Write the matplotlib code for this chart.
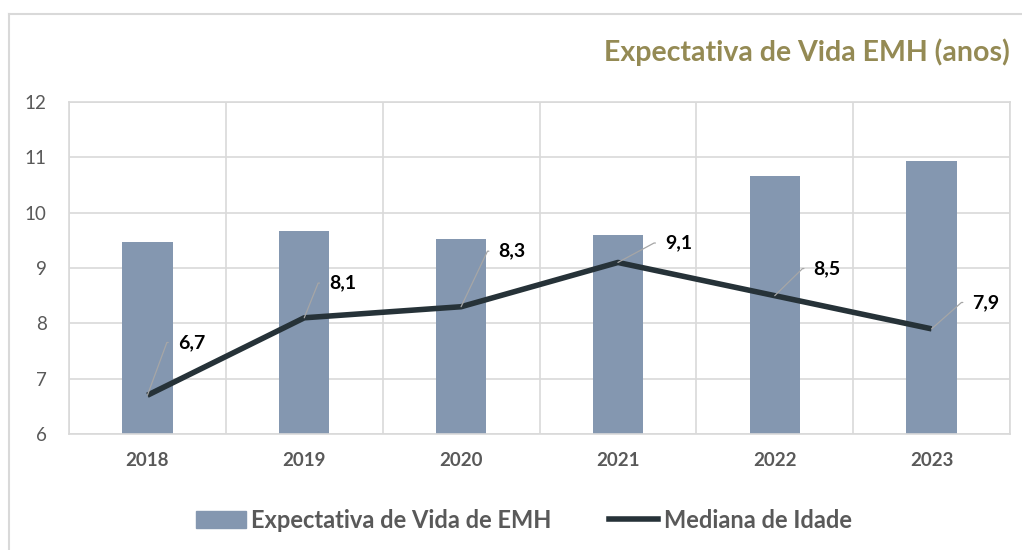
import numpy as np
import matplotlib
matplotlib.use("Agg")
import matplotlib.pyplot as plt
from matplotlib.lines import Line2D
from matplotlib.patches import Patch

anos = ["2018", "2019", "2020", "2021", "2022", "2023"]
expectativa_vida = [9.47, 9.67, 9.52, 9.60, 10.66, 10.93]
mediana_idade = [6.7, 8.1, 8.3, 9.1, 8.5, 7.9]
rotulos_mediana = ["6,7", "8,1", "8,3", "9,1", "8,5", "7,9"]

# label offsets (points) for the median data labels
offsets = [(22, 38), (18, 25), (27, 40), (34, 14), (28, 19.5), (29.5, 19)]

plt.rcParams['font.family'] = ['Lato', 'DejaVu Sans']

cor_barra = '#8497B0'
cor_linha = '#263238'
cor_grade = '#D9D9D9'
cor_texto = '#595959'

fig = plt.figure(figsize=(10.22, 5.5), dpi=100)
ax = fig.add_axes([69 / 1022, 1 - 434 / 550, (1010 - 69) / 1022, (434 - 102) / 550])

x = np.arange(len(anos))
ax.bar(x, expectativa_vida, width=0.32, color=cor_barra, zorder=2)
ax.plot(x, mediana_idade, color=cor_linha, lw=4, solid_capstyle='butt', zorder=3)

for xi, yi, txt, (dx, dy) in zip(x, mediana_idade, rotulos_mediana, offsets):
    ang = np.degrees(np.arctan2(dy, dx - 8))
    ax.annotate(txt, (xi, yi), xytext=(dx, dy), textcoords='offset points',
                ha='left', va='center', fontsize=14, fontweight='bold', color='black',
                zorder=4,
                arrowprops=dict(arrowstyle='-', color='#A6A6A6', lw=0.9,
                                connectionstyle=f'angle,angleA=0,angleB={ang},rad=0',
                                relpos=(0, 0.5), shrinkA=5, shrinkB=0))

ax.set_xlim(-0.5, len(anos) - 0.5)
ax.set_ylim(6, 12)
ax.set_yticks(range(6, 13))
ax.set_xticks(x)
ax.set_xticklabels(anos, fontweight='bold')
ax.set_xticks(np.arange(-0.5, len(anos)), minor=True)
ax.grid(axis='y', color=cor_grade, lw=1.2, zorder=0)
ax.grid(axis='x', which='minor', color=cor_grade, lw=1.2, zorder=0)
ax.grid(axis='x', which='major', visible=False)
for s in ax.spines.values():
    s.set_color(cor_grade)
    s.set_linewidth(1.2)
ax.tick_params(which='both', length=0)
ax.tick_params(axis='y', labelsize=13.5, labelcolor=cor_texto, pad=16)
ax.tick_params(axis='x', labelsize=13.5, labelcolor=cor_texto, pad=13)

fig.text(1010 / 1022, 1 - 52 / 550, "Expectativa de Vida EMH (anos)", ha='right', va='center',
         fontsize=20.5, fontweight='bold', color='#948A54')

# outer frame lines (top and left)
fig.add_artist(Line2D([9 / 1022, 9 / 1022], [0, 1 - 14 / 550], transform=fig.transFigure,
                      color=cor_grade, lw=1.5))
fig.add_artist(Line2D([9 / 1022, 1], [1 - 14 / 550, 1 - 14 / 550], transform=fig.transFigure,
                      color=cor_grade, lw=1.5))

handles = [Patch(color=cor_barra, label="Expectativa de Vida de EMH"),
           Line2D([0], [0], color=cor_linha, lw=4, label="Mediana de Idade")]
leg = fig.legend(handles=handles, loc='center', bbox_to_anchor=(524 / 1022, 1 - 520 / 550),
                 ncol=2, frameon=False, handlelength=2.1, handleheight=0.75, columnspacing=2.4,
                 handletextpad=0.25, prop={'size': 17, 'weight': 'bold'})
for t in leg.get_texts():
    t.set_color(cor_texto)

fig.savefig("out.png", dpi=100)
